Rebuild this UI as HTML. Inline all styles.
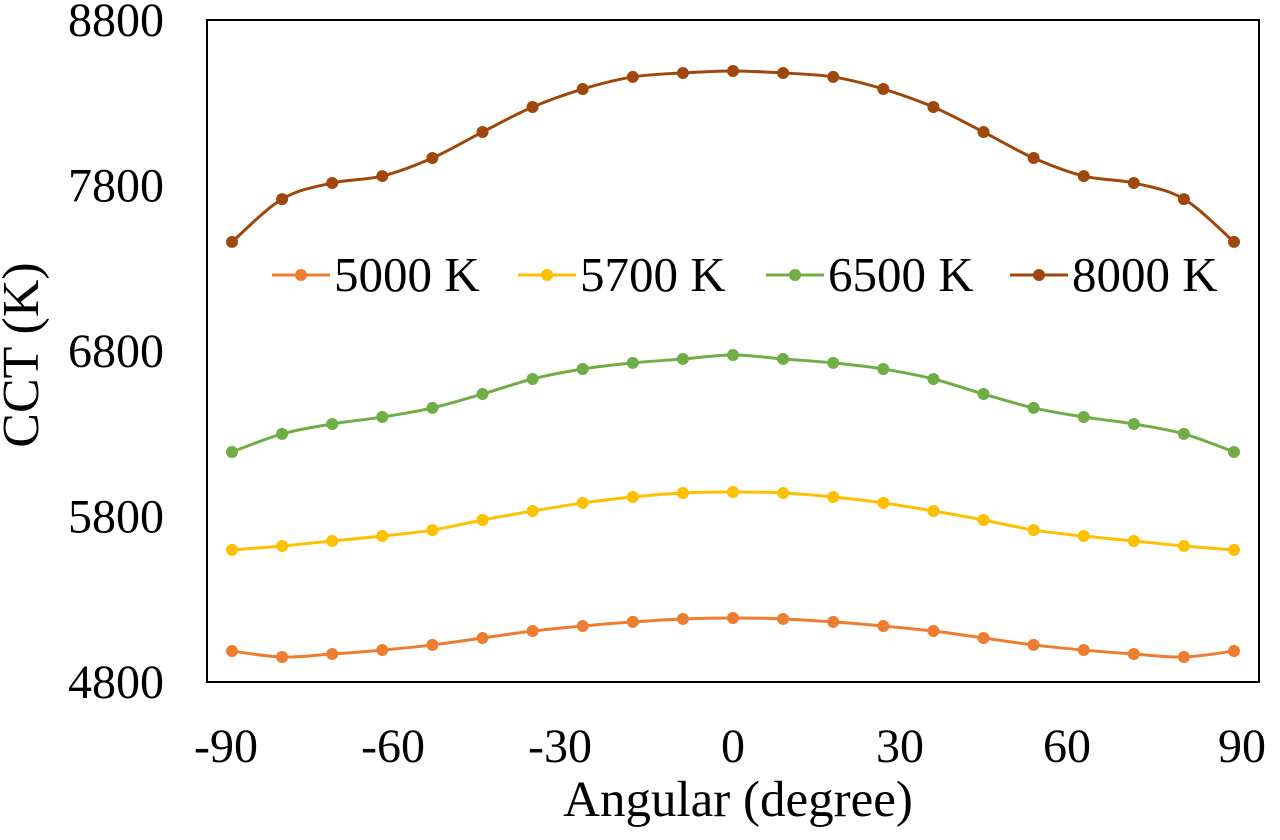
<!DOCTYPE html>
<html><head><meta charset="utf-8"><style>
body{margin:0;background:#fff;}
svg text{font-family:"Liberation Serif",serif;fill:#000;}
</style></head><body>
<svg id="chart" width="1280" height="835" viewBox="0 0 1280 835" xmlns="http://www.w3.org/2000/svg">
<rect x="207" y="20" width="1052" height="662" fill="#fff" stroke="#000" stroke-width="2"/>
<g id="yticks"></g><g id="xticks"></g><g id="series"></g><g id="legend"></g>
<text transform="translate(38,355) rotate(-90)" text-anchor="middle" font-size="52">CCT (K)</text>
<text x="738" y="816" text-anchor="middle" font-size="51">Angular (degree)</text>
</svg>
<script>
const angles=[-90,-81,-72,-63,-54,-45,-36,-27,-18,-9,0,9,18,27,36,45,54,63,72,81,90];
const s5000=[4987,4951,4969,4993,5024,5066,5108,5138,5163,5181,5187,5181,5163,5138,5108,5066,5024,4993,4969,4951,4987];
const s5700=[5598,5622,5652,5682,5718,5779,5833,5882,5918,5942,5948,5942,5918,5882,5833,5779,5718,5682,5652,5622,5598];
const s6500=[6190,6299,6359,6401,6456,6540,6631,6691,6728,6752,6776,6752,6728,6691,6631,6540,6456,6401,6359,6299,6190];
const s8000=[7459,7718,7815,7857,7966,8123,8274,8383,8456,8480,8492,8480,8456,8383,8274,8123,7966,7857,7815,7718,7459];
const seriesNames=["5000 K","5700 K","6500 K","8000 K"];
const yTicks=[4800,5800,6800,7800,8800];
const xTicks=[-90,-60,-30,0,30,60,90];
const NS="http://www.w3.org/2000/svg";
const xs=v=>733+(v)*(1002/180);
const ys=v=>682-(v-4800)*(662/4000);
function mk(t,a,p){const e=document.createElementNS(NS,t);for(const k in a)e.setAttribute(k,a[k]);p.appendChild(e);return e;}
const yt=document.getElementById('yticks');
yTicks.forEach(v=>{const t=mk('text',{x:164,y:ys(v)+16,'text-anchor':'end','font-size':48},yt);t.textContent=v;

});
const xt=document.getElementById('xticks');
xTicks.forEach(v=>{const t=mk('text',{x:xs(v)+(v<0?-6:0)+(v===90?8:0),y:762,'text-anchor':'middle','font-size':48},xt);t.textContent=v;

});
const colors=["#ED7D31","#FFC000","#70AD47","#9E480E"];
const data=[s5000,s5700,s6500,s8000];
const sg=document.getElementById('series');
function smooth(pts){let d=`M${pts[0][0]},${pts[0][1]}`;for(let i=0;i<pts.length-1;i++){const p0=pts[i-1]||pts[i],p1=pts[i],p2=pts[i+1],p3=pts[i+2]||p2;const c1=[p1[0]+(p2[0]-p0[0])/6,p1[1]+(p2[1]-p0[1])/6],c2=[p2[0]-(p3[0]-p1[0])/6,p2[1]-(p3[1]-p1[1])/6];d+=`C${c1[0]},${c1[1]} ${c2[0]},${c2[1]} ${p2[0]},${p2[1]}`;}return d;}
data.forEach((arr,si)=>{const g=mk('g',{},sg);


const pts=arr.map((v,i)=>[xs(angles[i]),ys(v)]);
const p=mk('path',{d:smooth(pts),fill:'none',stroke:colors[si],'stroke-width':3},g);


pts.forEach(q=>{const c=mk('circle',{cx:q[0],cy:q[1],r:6,fill:colors[si]},g);

});});
const lg=document.getElementById('legend');
const lx=[272,518,766,1010];
seriesNames.forEach((n,i)=>{const g=mk('g',{},lg);


mk('rect',{x:lx[i]-4,y:252,width:232,height:46,fill:'#fff'},g);
mk('line',{x1:lx[i],y1:275,x2:lx[i]+58,y2:275,stroke:colors[i],'stroke-width':3},g);
mk('circle',{cx:lx[i]+29,cy:275,r:6,fill:colors[i]},g);
const t=mk('text',{x:lx[i]+62,y:291,'font-size':49},g);t.textContent=n;});
</script>
</body></html>
